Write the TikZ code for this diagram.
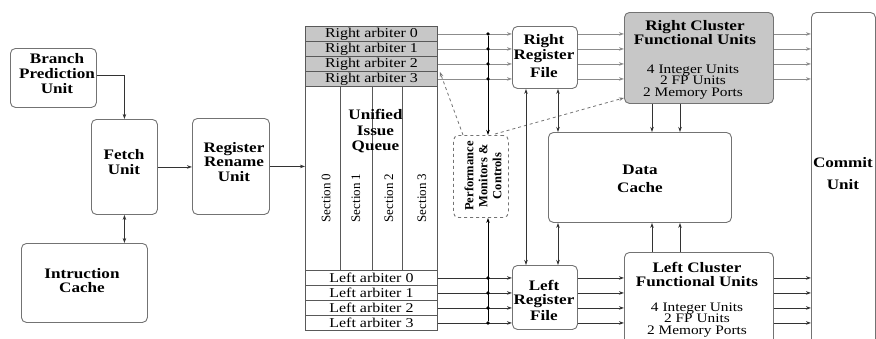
\documentclass[tikz,border=0pt]{standalone}
\usepackage{fontspec}
\setmainfont{Liberation Serif}[FakeStretch=1.18]
\newfontfamily\rotfont{Liberation Serif}
\usetikzlibrary{arrows.meta}
\definecolor{boxcol}{gray}{0.45}
\definecolor{qcol}{gray}{0.35}
\definecolor{rcol}{gray}{0.55}
\definecolor{lcol}{gray}{0.2}
\definecolor{fillg}{gray}{0.78}
\begin{document}
\begin{tikzpicture}[x=1pt,y=-1pt,
  box/.style={draw=boxcol, line width=0.9pt, rounded corners=5pt, inner sep=0, anchor=north west},
  sq/.style={draw=qcol, line width=0.9pt, inner sep=0, anchor=north west},
  bt/.style={font=\fontsize{14.5}{15}\selectfont\bfseries, align=center, inner sep=0},
  nt/.style={font=\fontsize{13.5}{14}\selectfont, inner sep=0},
  spec/.style={font=\fontsize{13}{11.5}\selectfont, align=center, inner sep=0},
  st/.style={font=\rotfont\fontsize{13}{13}\selectfont, rotate=90, inner sep=0},
  arr/.style={-{Stealth[length=5pt,width=3.5pt]}},
  darr/.style={{Stealth[length=5pt,width=3.5pt]}-{Stealth[length=5pt,width=3.5pt]}},
  rl/.style={draw=rcol, line width=0.8pt},
  ll/.style={draw=lcol, line width=0.8pt},
  dotn/.style={circle, fill=black, inner sep=0, minimum size=3.6pt}
]
\useasboundingbox (0,0) rectangle (876,338);
\clip (0,0) rectangle (876,338);
\fill[white] (0,0) rectangle (876,338);

% ---------- front end ----------
\node[box, minimum width=86, minimum height=59] (bpu) at (10,48) {};
\node[bt] (bput) at (57,74) {Branch\\Prediction\\Unit};
\node[box, minimum width=66, minimum height=95] (fu) at (91,119) {};
\node[bt] (fut) at (124,162.5) {Fetch\\Unit};
\node[box, minimum width=126, minimum height=79] (ic) at (21,243) {};
\node[bt, font=\fontsize{14.5}{14}\selectfont\bfseries] (ict) at (82,281) {Intruction\\Cache};
\node[box, minimum width=77, minimum height=96] (rru) at (192,118) {};
\node[bt, font=\fontsize{14.5}{14.5}\selectfont\bfseries] (rrut) at (234,162) {Register\\Rename\\Unit};

% ---------- issue queue ----------
\foreach \i in {0,1,2,3}{
  \node[sq, fill=fillg, minimum width=132, minimum height=15] (ra\i) at (305,{26+15*\i}) {};
  \node[nt] (rat\i) at (ra\i.center) {Right arbiter \i};
  \node[sq, minimum width=132, minimum height=15] (la\i) at (305,{270+15*\i}) {};
  \node[nt] (lat\i) at (la\i.center) {Left arbiter \i};
}
\node[sq, minimum width=132, minimum height=184] (qb) at (305,86) {};
\coordinate (s1) at (340,86);
\coordinate (s2) at (372,86);
\coordinate (s3) at (402,86);
\foreach \s in {s1,s2,s3} \draw[qcol, line width=0.9pt] (\s) -- (\s |- qb.south);
\node[bt, font=\fontsize{14.5}{15.5}\selectfont\bfseries] (uiq) at (375.5,131.5) {Unified\\Issue\\Queue};
\node[st] (sec0) at (326,198) {Section 0};
\node[st] (sec1) at (356,198) {Section 1};
\node[st] (sec2) at (389,198) {Section 2};
\node[st] (sec3) at (422,198) {Section 3};

% ---------- register files ----------
\node[box, minimum width=65, minimum height=62] (rrf) at (512,26) {};
\node[bt] (rrft) at (544,56) {Right\\Register\\[3pt]File};
\node[box, minimum width=65, minimum height=64] (lrf) at (512,265) {};
\node[bt, font=\fontsize{14.5}{13.5}\selectfont\bfseries] (lrft) at (544,300.5) {Left\\Register\\[3pt]File};

% ---------- performance monitors ----------
\node[box, dashed, minimum width=55, minimum height=82] (pm) at (453,135) {};
\node[bt, font=\rotfont\fontsize{12.5}{14}\selectfont\bfseries, rotate=90] (pmt) at (483,176) {Performance\\Monitors \&\\Controls};

% ---------- clusters, cache, commit ----------
\node[box, fill=fillg, minimum width=149, minimum height=91] (rcfu) at (624,12) {};
\node[bt, font=\fontsize{14.5}{14}\selectfont\bfseries] (rcfut) at (695,33) {Right Cluster\\Functional Units};
\node[spec] (rcfus) at (693,82) {4 Integer Units\\2 FP Units\\2 Memory Ports};
\node[box, minimum width=149, minimum height=100] (lcfu) at (624,252) {};
\node[bt, font=\fontsize{14.5}{14}\selectfont\bfseries] (lcfut) at (697,274) {Left Cluster\\Functional Units};
\node[spec] (lcfus) at (697,320) {4 Integer Units\\2 FP Units\\2 Memory Ports};
\node[box, minimum width=183, minimum height=90] (dc) at (548,132) {};
\node[bt, font=\fontsize{14.5}{18}\selectfont\bfseries] (dct) at (640,179) {Data\\Cache};
\node[box, minimum width=64, minimum height=340] (cu) at (811,12) {};
\node[bt, font=\fontsize{14.5}{22}\selectfont\bfseries] (cut) at (843,174) {Commit\\Unit};

% ---------- front-end connectors ----------
\draw[lcol, line width=0.8pt, arr] ([yshift=3pt]bpu.east) -| (fu.north);
\draw[lcol, line width=0.8pt, darr] (fu.south) -- (fu.south |- ic.north);
\draw[lcol, line width=0.8pt, arr] (fu.east) -- (fu.east -| rru.west);
\draw[lcol, line width=0.8pt, arr] (rru.east) -- (rru.east -| qb.west);

% ---------- arbiter buses ----------
\coordinate (bus) at (488,30);
\foreach \i in {0,1,2,3}{
  \draw[rl, arr] (ra\i.east) -- (ra\i.east -| rrf.west);
  \node[dotn] (dr\i) at (bus |- ra\i.east) {};
  \draw[rl, arr] (ra\i.east -| rrf.east) -- (ra\i.east -| rcfu.west);
  \draw[rl, arr] (ra\i.east -| rcfu.east) -- (ra\i.east -| cu.west);
  \draw[ll, arr] (la\i.east) -- (la\i.east -| lrf.west);
  \node[dotn] (dl\i) at (bus |- la\i.east) {};
  \draw[ll, arr] (la\i.east -| lrf.east) -- (la\i.east -| lcfu.west);
  \draw[ll, arr] (la\i.east -| lcfu.east) -- (la\i.east -| cu.west);
}
\draw[black, line width=0.8pt, arr] (dr0) -- (bus |- pm.north);
\draw[black, line width=0.8pt, arr] (dl3) -- (bus |- pm.south);

% ---------- dashed control lines ----------
\coordinate (pmA) at (463,135);
\coordinate (pmB) at (495,134);
\draw[boxcol, dashed, line width=0.8pt, arr] (pmA) -- ([xshift=2pt]ra2.south east);
\draw[boxcol, dashed, line width=0.8pt, arr] (pmB) -- ([yshift=6pt]rcfu.south west);

% ---------- vertical data paths ----------
\coordinate (v1) at (526,0);
\coordinate (v2) at (558,0);
\coordinate (v3) at (652,0);
\coordinate (v4) at (680,0);
\draw[lcol, line width=0.8pt, darr] (v1 |- rrf.south) -- (v1 |- lrf.north);
\draw[lcol, line width=0.8pt, darr] (v2 |- rrf.south) -- (v2 |- dc.north);
\draw[lcol, line width=0.8pt, darr] (v2 |- dc.south) -- (v2 |- lrf.north);
\draw[lcol, line width=0.8pt, arr] (v3 |- rcfu.south) -- (v3 |- dc.north);
\draw[lcol, line width=0.8pt, arr] (v4 |- rcfu.south) -- (v4 |- dc.north);
\draw[lcol, line width=0.8pt, arr] (v3 |- lcfu.north) -- (v3 |- dc.south);
\draw[lcol, line width=0.8pt, arr] (v4 |- lcfu.north) -- (v4 |- dc.south);
\end{tikzpicture}
\end{document}
